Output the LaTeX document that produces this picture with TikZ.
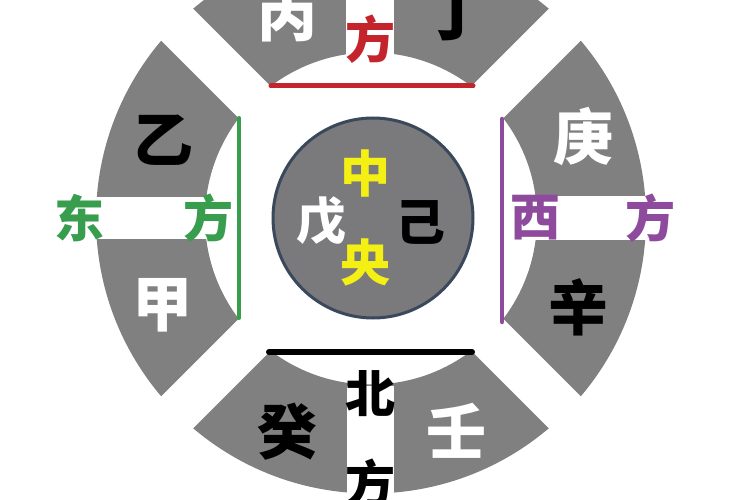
\documentclass[tikz,border=0pt]{standalone}
\usepackage{fontspec}
\newfontfamily\cjk{Noto Sans CJK SC}
\definecolor{ringgray}{RGB}{128,128,128}
\definecolor{discgray}{RGB}{122,122,124}
\definecolor{discedge}{RGB}{58,72,92}
\definecolor{eastgreen}{RGB}{56,158,78}
\definecolor{westpurple}{RGB}{142,74,156}
\definecolor{southred}{RGB}{196,36,44}
\definecolor{centeryellow}{RGB}{245,240,20}
\begin{document}
\begin{tikzpicture}[x=1pt,y=-1pt,
  glyph/.style={font=\cjk\bfseries\fontsize{60}{60}\selectfont, inner sep=0pt},
  small/.style={font=\cjk\bfseries\fontsize{50}{50}\selectfont, inner sep=0pt},
  chord/.style={line width=5pt, line cap=round},
  band/.style={fill=white, draw=none}
]
\useasboundingbox (0,0) rectangle (750,500);
\clip (0,0) rectangle (750,500);
\coordinate (c) at (371,218.5);
% ring
\fill[ringgray, even odd rule] (c) circle[radius=275] (c) circle[radius=166];
% diagonal gaps
\begin{scope}[shift={(c)}, rotate=45]
  \fill[white] (-300,-22.5) rectangle (300,22.5);
  \fill[white] (-22.5,-300) rectangle (22.5,300);
\end{scope}
% chords
\coordinate (nL) at (271,86);  \coordinate (nR) at (473,86);
\coordinate (sL) at (269,352); \coordinate (sR) at (472,352);
\coordinate (eT) at (239,118); \coordinate (eB) at (239,318);
\coordinate (wT) at (502,119); \coordinate (wB) at (502,322);
\draw[chord, southred] (nL) -- (nR);
\draw[chord, black, line width=6pt] (sL) -- (sR);
\draw[chord, eastgreen, line width=4pt] (eT) -- (eB);
\draw[chord, westpurple, line width=4.5pt] (wT) -- (wB);
% white bands behind direction labels
\fill[band] (55,197) rectangle (233,239);
\fill[band] (513,196) rectangle (673,240);
\fill[band] (346,0) rectangle (394,62);
\fill[band] (347,386) rectangle (394,500);
% direction labels
\node[small, text=southred] (southfang) at (370,39) {方};
\node[small, text=eastgreen] (dong) at (79,218) {东};
\node[small, text=eastgreen] (eastfang) at (208,218) {方};
\node[small, text=westpurple] (xi) at (535,218) {西};
\node[small, text=westpurple] (westfang) at (650,218) {方};
\node[small, text=black] (bei) at (370,394) {北};
\node[small, text=black] (northfang) at (370,483) {方};
% stems
\node[glyph, text=white] (bing) at (287,15) {丙};
\node[glyph, text=black] (ding) at (455,15) {丁};
\node[glyph, text=black] (yi) at (163,140) {乙};
\node[glyph, text=white] (jia) at (162,305) {甲};
\node[glyph, text=white] (geng) at (583,137) {庚};
\node[glyph, text=black] (xin) at (578,307) {辛};
\node[glyph, text=black] (gui) at (287,432) {癸};
\node[glyph, text=white] (ren) at (456,431) {壬};
% centre disc
\node[circle, minimum size=200pt, fill=discgray, draw=discedge, line width=3pt, inner sep=0pt] (disc) at (373,218) {};
\node[small, text=centeryellow] (zhong) at (365,174) {中};
\node[small, text=centeryellow] (yang) at (365,262) {央};
\node[small, text=white] (wu) at (321,221) {戊};
\node[small, text=black] (ji) at (420,222) {己};
\end{tikzpicture}
\end{document}
